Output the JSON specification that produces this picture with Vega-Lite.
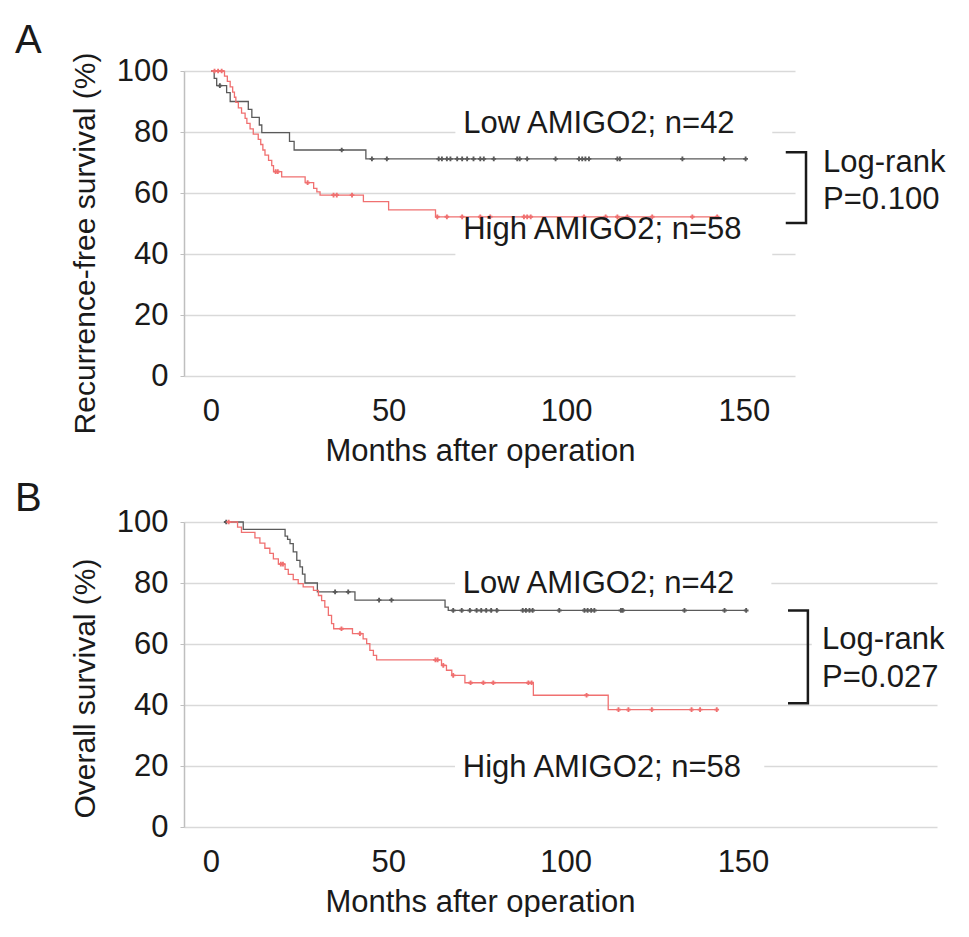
{
  "$schema": "https://vega.github.io/schema/vega-lite/v6.json",
  "background": "white",
  "padding": {"left": 15, "top": 21, "right": 0, "bottom": 0},
  "spacing": 13,
  "config": {
    "font": "Liberation Sans",
    "view": {"stroke": null},
    "title": {"fontSize": 40, "fontWeight": "normal", "color": "#1a1a1a", "anchor": "start", "frame": "group"},
    "axisX": {"grid": false, "domain": false, "ticks": false, "labelFontSize": 31, "labelPadding": 20, "labelColor": "#1a1a1a", "titleFontSize": 31, "titleFontWeight": "normal", "titleColor": "#1a1a1a", "titlePadding": 10, "titleX": 296},
    "axisY": {"grid": true, "gridColor": "#d9d9d9", "gridWidth": 1.5, "domainColor": "#bfbfbf", "domainWidth": 1.5, "tickColor": "#bfbfbf", "tickSize": 4, "labelFontSize": 31, "labelPadding": 12, "labelColor": "#1a1a1a", "titleFontSize": 30, "titleFontWeight": "normal", "titleColor": "#1a1a1a", "titlePadding": 16},
    "text": {"fontSize": 31, "align": "left", "baseline": "middle", "color": "#1a1a1a"}
  },
  "datasets": {
    "rfs_curves": [
      {"group": "Low", "month": 0, "surv": 100},
      {"group": "Low", "month": 0.9, "surv": 97.6},
      {"group": "Low", "month": 1.6, "surv": 95.2},
      {"group": "Low", "month": 4.4, "surv": 92.9},
      {"group": "Low", "month": 5.4, "surv": 90.0},
      {"group": "Low", "month": 10.5, "surv": 87.4},
      {"group": "Low", "month": 11.5, "surv": 84.8},
      {"group": "Low", "month": 13.6, "surv": 82.3},
      {"group": "Low", "month": 14.3, "surv": 79.8},
      {"group": "Low", "month": 22.1, "surv": 76.9},
      {"group": "Low", "month": 23.4, "surv": 74.1},
      {"group": "Low", "month": 43.6, "surv": 71.2},
      {"group": "Low", "month": 150.5, "surv": 71.2},
      {"group": "High", "month": 0, "surv": 100},
      {"group": "High", "month": 3.8, "surv": 98.3},
      {"group": "High", "month": 4.6, "surv": 96.6},
      {"group": "High", "month": 5.4, "surv": 94.8},
      {"group": "High", "month": 6.1, "surv": 93.1},
      {"group": "High", "month": 6.6, "surv": 91.4},
      {"group": "High", "month": 7.0, "surv": 89.7},
      {"group": "High", "month": 7.7, "surv": 87.9},
      {"group": "High", "month": 8.6, "surv": 86.2},
      {"group": "High", "month": 9.6, "surv": 84.5},
      {"group": "High", "month": 10.1, "surv": 82.8},
      {"group": "High", "month": 11.0, "surv": 81.0},
      {"group": "High", "month": 11.9, "surv": 79.3},
      {"group": "High", "month": 13.3, "surv": 77.6},
      {"group": "High", "month": 14.0, "surv": 75.9},
      {"group": "High", "month": 14.6, "surv": 74.1},
      {"group": "High", "month": 15.2, "surv": 72.4},
      {"group": "High", "month": 16.2, "surv": 70.7},
      {"group": "High", "month": 17.1, "surv": 69.0},
      {"group": "High", "month": 17.6, "surv": 67.0},
      {"group": "High", "month": 19.9, "surv": 65.3},
      {"group": "High", "month": 26.5, "surv": 63.4},
      {"group": "High", "month": 28.9, "surv": 61.5},
      {"group": "High", "month": 29.8, "surv": 60.4},
      {"group": "High", "month": 30.7, "surv": 59.3},
      {"group": "High", "month": 42.9, "surv": 57.2},
      {"group": "High", "month": 50.0, "surv": 54.5},
      {"group": "High", "month": 63.2, "surv": 52.2},
      {"group": "High", "month": 142.5, "surv": 52.2}
    ],
    "rfs_censor": [
      {"group": "Low", "month": 2.5, "surv": 95.2},
      {"group": "Low", "month": 36.8, "surv": 74.1},
      {"group": "Low", "month": 45.3, "surv": 71.2},
      {"group": "Low", "month": 49.5, "surv": 71.2},
      {"group": "Low", "month": 64.1, "surv": 71.2},
      {"group": "Low", "month": 65.0, "surv": 71.2},
      {"group": "Low", "month": 66.4, "surv": 71.2},
      {"group": "Low", "month": 67.4, "surv": 71.2},
      {"group": "Low", "month": 69.3, "surv": 71.2},
      {"group": "Low", "month": 70.7, "surv": 71.2},
      {"group": "Low", "month": 72.1, "surv": 71.2},
      {"group": "Low", "month": 73.9, "surv": 71.2},
      {"group": "Low", "month": 75.8, "surv": 71.2},
      {"group": "Low", "month": 76.8, "surv": 71.2},
      {"group": "Low", "month": 79.6, "surv": 71.2},
      {"group": "Low", "month": 86.2, "surv": 71.2},
      {"group": "Low", "month": 86.9, "surv": 71.2},
      {"group": "Low", "month": 89.0, "surv": 71.2},
      {"group": "Low", "month": 97.0, "surv": 71.2},
      {"group": "Low", "month": 103.6, "surv": 71.2},
      {"group": "Low", "month": 104.5, "surv": 71.2},
      {"group": "Low", "month": 105.4, "surv": 71.2},
      {"group": "Low", "month": 106.4, "surv": 71.2},
      {"group": "Low", "month": 114.4, "surv": 71.2},
      {"group": "Low", "month": 115.1, "surv": 71.2},
      {"group": "Low", "month": 132.7, "surv": 71.2},
      {"group": "Low", "month": 144.4, "surv": 71.2},
      {"group": "Low", "month": 150.5, "surv": 71.2},
      {"group": "High", "month": 1.0, "surv": 100},
      {"group": "High", "month": 2.0, "surv": 100},
      {"group": "High", "month": 3.0, "surv": 100},
      {"group": "High", "month": 18.2, "surv": 67.0},
      {"group": "High", "month": 18.8, "surv": 67.0},
      {"group": "High", "month": 27.2, "surv": 63.4},
      {"group": "High", "month": 34.5, "surv": 59.3},
      {"group": "High", "month": 35.4, "surv": 59.3},
      {"group": "High", "month": 39.7, "surv": 59.3},
      {"group": "High", "month": 63.7, "surv": 52.2},
      {"group": "High", "month": 66.4, "surv": 52.2},
      {"group": "High", "month": 70.7, "surv": 52.2},
      {"group": "High", "month": 75.8, "surv": 52.2},
      {"group": "High", "month": 78.6, "surv": 52.2},
      {"group": "High", "month": 88.1, "surv": 52.2},
      {"group": "High", "month": 89.0, "surv": 52.2},
      {"group": "High", "month": 90.0, "surv": 52.2},
      {"group": "High", "month": 105.0, "surv": 52.2},
      {"group": "High", "month": 111.1, "surv": 52.2},
      {"group": "High", "month": 114.4, "surv": 52.2},
      {"group": "High", "month": 117.2, "surv": 52.2},
      {"group": "High", "month": 124.2, "surv": 52.2},
      {"group": "High", "month": 135.5, "surv": 52.2},
      {"group": "High", "month": 142.5, "surv": 52.2}
    ],
    "os_curves": [
      {"group": "Low", "month": 4.0, "surv": 100},
      {"group": "Low", "month": 9.1, "surv": 97.6},
      {"group": "Low", "month": 20.9, "surv": 95.4},
      {"group": "Low", "month": 21.6, "surv": 94.3},
      {"group": "Low", "month": 22.3, "surv": 92.9},
      {"group": "Low", "month": 23.2, "surv": 90.2},
      {"group": "Low", "month": 24.2, "surv": 87.4},
      {"group": "Low", "month": 25.1, "surv": 85.3},
      {"group": "Low", "month": 25.8, "surv": 82.9},
      {"group": "Low", "month": 26.5, "surv": 80.0},
      {"group": "Low", "month": 30.0, "surv": 77.1},
      {"group": "Low", "month": 40.6, "surv": 74.4},
      {"group": "Low", "month": 66.0, "surv": 72.1},
      {"group": "Low", "month": 66.9, "surv": 71.0},
      {"group": "Low", "month": 150.9, "surv": 71.0},
      {"group": "High", "month": 4.0, "surv": 100},
      {"group": "High", "month": 7.5, "surv": 98.3},
      {"group": "High", "month": 8.6, "surv": 96.6},
      {"group": "High", "month": 12.4, "surv": 94.8},
      {"group": "High", "month": 13.8, "surv": 93.1},
      {"group": "High", "month": 15.2, "surv": 91.4},
      {"group": "High", "month": 16.6, "surv": 89.7},
      {"group": "High", "month": 17.6, "surv": 87.9},
      {"group": "High", "month": 19.0, "surv": 86.2},
      {"group": "High", "month": 20.9, "surv": 84.5},
      {"group": "High", "month": 21.8, "surv": 82.8},
      {"group": "High", "month": 23.2, "surv": 81.1},
      {"group": "High", "month": 24.6, "surv": 79.8},
      {"group": "High", "month": 26.0, "surv": 78.7},
      {"group": "High", "month": 28.9, "surv": 77.6},
      {"group": "High", "month": 30.3, "surv": 75.9},
      {"group": "High", "month": 31.2, "surv": 74.2},
      {"group": "High", "month": 32.1, "surv": 72.1},
      {"group": "High", "month": 33.1, "surv": 69.4},
      {"group": "High", "month": 34.0, "surv": 66.7},
      {"group": "High", "month": 34.6, "surv": 65.0},
      {"group": "High", "month": 39.9, "surv": 63.4},
      {"group": "High", "month": 42.9, "surv": 61.7},
      {"group": "High", "month": 43.9, "surv": 60.1},
      {"group": "High", "month": 44.8, "surv": 57.9},
      {"group": "High", "month": 45.8, "surv": 56.3},
      {"group": "High", "month": 46.7, "surv": 54.8},
      {"group": "High", "month": 65.0, "surv": 53.0},
      {"group": "High", "month": 66.4, "surv": 51.4},
      {"group": "High", "month": 67.9, "surv": 49.7},
      {"group": "High", "month": 71.6, "surv": 47.3},
      {"group": "High", "month": 90.9, "surv": 43.2},
      {"group": "High", "month": 112.0, "surv": 38.5},
      {"group": "High", "month": 142.6, "surv": 38.5}
    ],
    "os_censor": [
      {"group": "Low", "month": 4.3, "surv": 100},
      {"group": "Low", "month": 35.0, "surv": 77.1},
      {"group": "Low", "month": 38.7, "surv": 77.1},
      {"group": "Low", "month": 47.4, "surv": 74.4},
      {"group": "Low", "month": 50.9, "surv": 74.4},
      {"group": "Low", "month": 68.3, "surv": 71.0},
      {"group": "Low", "month": 70.7, "surv": 71.0},
      {"group": "Low", "month": 73.0, "surv": 71.0},
      {"group": "Low", "month": 74.9, "surv": 71.0},
      {"group": "Low", "month": 76.2, "surv": 71.0},
      {"group": "Low", "month": 77.6, "surv": 71.0},
      {"group": "Low", "month": 79.0, "surv": 71.0},
      {"group": "Low", "month": 80.6, "surv": 71.0},
      {"group": "Low", "month": 87.9, "surv": 71.0},
      {"group": "Low", "month": 88.8, "surv": 71.0},
      {"group": "Low", "month": 89.8, "surv": 71.0},
      {"group": "Low", "month": 90.7, "surv": 71.0},
      {"group": "Low", "month": 98.2, "surv": 71.0},
      {"group": "Low", "month": 105.3, "surv": 71.0},
      {"group": "Low", "month": 106.2, "surv": 71.0},
      {"group": "Low", "month": 107.2, "surv": 71.0},
      {"group": "Low", "month": 108.1, "surv": 71.0},
      {"group": "Low", "month": 115.6, "surv": 71.0},
      {"group": "Low", "month": 116.1, "surv": 71.0},
      {"group": "Low", "month": 133.5, "surv": 71.0},
      {"group": "Low", "month": 144.8, "surv": 71.0},
      {"group": "Low", "month": 150.9, "surv": 71.0},
      {"group": "High", "month": 5.0, "surv": 100},
      {"group": "High", "month": 19.7, "surv": 86.2},
      {"group": "High", "month": 20.3, "surv": 86.2},
      {"group": "High", "month": 36.8, "surv": 65.0},
      {"group": "High", "month": 42.0, "surv": 63.4},
      {"group": "High", "month": 63.3, "surv": 54.8},
      {"group": "High", "month": 63.9, "surv": 54.8},
      {"group": "High", "month": 65.5, "surv": 53.0},
      {"group": "High", "month": 68.3, "surv": 49.7},
      {"group": "High", "month": 73.2, "surv": 47.3},
      {"group": "High", "month": 76.8, "surv": 47.3},
      {"group": "High", "month": 79.6, "surv": 47.3},
      {"group": "High", "month": 89.5, "surv": 47.3},
      {"group": "High", "month": 90.4, "surv": 47.3},
      {"group": "High", "month": 105.9, "surv": 43.2},
      {"group": "High", "month": 114.9, "surv": 38.5},
      {"group": "High", "month": 117.7, "surv": 38.5},
      {"group": "High", "month": 124.3, "surv": 38.5},
      {"group": "High", "month": 135.5, "surv": 38.5},
      {"group": "High", "month": 137.9, "surv": 38.5},
      {"group": "High", "month": 142.6, "surv": 38.5}
    ],
    "rfs_text": [
      {"month": 71, "surv": 82.6, "label": "Low AMIGO2; n=42"},
      {"month": 71, "surv": 47.9, "label": "High AMIGO2; n=58"},
      {"month": 172.3, "surv": 69.8, "label": "Log-rank"},
      {"month": 172.3, "surv": 57.7, "label": "P=0.100"}
    ],
    "rfs_box": [
      {"month": 68.8, "month2": 158, "surv": 77.4, "surv2": 87.9},
      {"month": 68.8, "month2": 158, "surv": 37.4, "surv2": 53.8}
    ],
    "rfs_bracket": [
      {"month": 161.8, "surv": 73.4, "ord": 1},
      {"month": 167.5, "surv": 73.4, "ord": 2},
      {"month": 167.5, "surv": 50.2, "ord": 3},
      {"month": 161.8, "surv": 50.2, "ord": 4}
    ],
    "os_text": [
      {"month": 71, "surv": 79.6, "label": "Low AMIGO2; n=42"},
      {"month": 71, "surv": 19.2, "label": "High AMIGO2; n=58"},
      {"month": 172.3, "surv": 61.2, "label": "Log-rank"},
      {"month": 172.3, "surv": 48.8, "label": "P=0.027"}
    ],
    "os_box": [
      {"month": 68.8, "month2": 158, "surv": 74.3, "surv2": 84.8},
      {"month": 68.8, "month2": 156, "surv": 13.7, "surv2": 24.5},
      {"month": 169.4, "month2": 204.7, "surv": 43.2, "surv2": 69.4}
    ],
    "os_bracket": [
      {"month": 162.7, "surv": 71.0, "ord": 1},
      {"month": 168.3, "surv": 71.0, "ord": 2},
      {"month": 168.3, "surv": 40.6, "ord": 3},
      {"month": 162.7, "surv": 40.6, "ord": 4}
    ]
  },
  "vconcat": [
    {
      "width": 611,
      "height": 305,
      "title": {"text": "A", "dx": -169, "offset": -9},
      "encoding": {
        "x": {"field": "month", "type": "quantitative", "scale": {"domain": [-7.6, 164.4], "nice": false, "zero": false}, "axis": {"title": "Months after operation", "values": [0, 50, 100, 150]}},
        "y": {"field": "surv", "type": "quantitative", "scale": {"domain": [0, 100], "nice": false}, "axis": {"title": "Recurrence-free survival (%)", "titleY": 172, "values": [0, 20, 40, 60, 80, 100]}}
      },
      "layer": [
        {"data": {"name": "rfs_box"}, "mark": {"type": "rect", "color": "white"}, "encoding": {"x2": {"field": "month2"}, "y2": {"field": "surv2"}}},
        {"data": {"name": "rfs_curves"}, "mark": {"type": "line", "interpolate": "step-after", "strokeWidth": 1.3}, "encoding": {"color": {"field": "group", "type": "nominal", "scale": {"domain": ["Low", "High"], "range": ["#5a5a5a", "#f07070"]}, "legend": null}}},
        {"data": {"name": "rfs_censor"}, "mark": {"type": "point", "shape": "cross", "filled": true, "size": 22, "opacity": 1}, "encoding": {"color": {"field": "group", "type": "nominal", "scale": {"domain": ["Low", "High"], "range": ["#5a5a5a", "#f07070"]}, "legend": null}}},
        {"data": {"name": "rfs_bracket"}, "mark": {"type": "line", "color": "#1a1a1a", "strokeWidth": 2.5}, "encoding": {"order": {"field": "ord", "type": "quantitative"}}},
        {"data": {"name": "rfs_text"}, "mark": {"type": "text"}, "encoding": {"text": {"field": "label"}}}
      ]
    },
    {
      "width": 753,
      "height": 305,
      "title": {"text": "B", "dx": -169, "offset": -13},
      "encoding": {
        "x": {"field": "month", "type": "quantitative", "scale": {"domain": [-7.6, 204.7], "nice": false, "zero": false}, "axis": {"title": "Months after operation", "values": [0, 50, 100, 150]}},
        "y": {"field": "surv", "type": "quantitative", "scale": {"domain": [0, 100], "nice": false}, "axis": {"title": "Overall survival (%)", "titleY": 166, "values": [0, 20, 40, 60, 80, 100]}}
      },
      "layer": [
        {"data": {"name": "os_box"}, "mark": {"type": "rect", "color": "white"}, "encoding": {"x2": {"field": "month2"}, "y2": {"field": "surv2"}}},
        {"data": {"name": "os_curves"}, "mark": {"type": "line", "interpolate": "step-after", "strokeWidth": 1.3}, "encoding": {"color": {"field": "group", "type": "nominal", "scale": {"domain": ["Low", "High"], "range": ["#5a5a5a", "#f07070"]}, "legend": null}}},
        {"data": {"name": "os_censor"}, "mark": {"type": "point", "shape": "cross", "filled": true, "size": 22, "opacity": 1}, "encoding": {"color": {"field": "group", "type": "nominal", "scale": {"domain": ["Low", "High"], "range": ["#5a5a5a", "#f07070"]}, "legend": null}}},
        {"data": {"name": "os_bracket"}, "mark": {"type": "line", "color": "#1a1a1a", "strokeWidth": 2.5}, "encoding": {"order": {"field": "ord", "type": "quantitative"}}},
        {"data": {"name": "os_text"}, "mark": {"type": "text"}, "encoding": {"text": {"field": "label"}}}
      ]
    }
  ]
}
